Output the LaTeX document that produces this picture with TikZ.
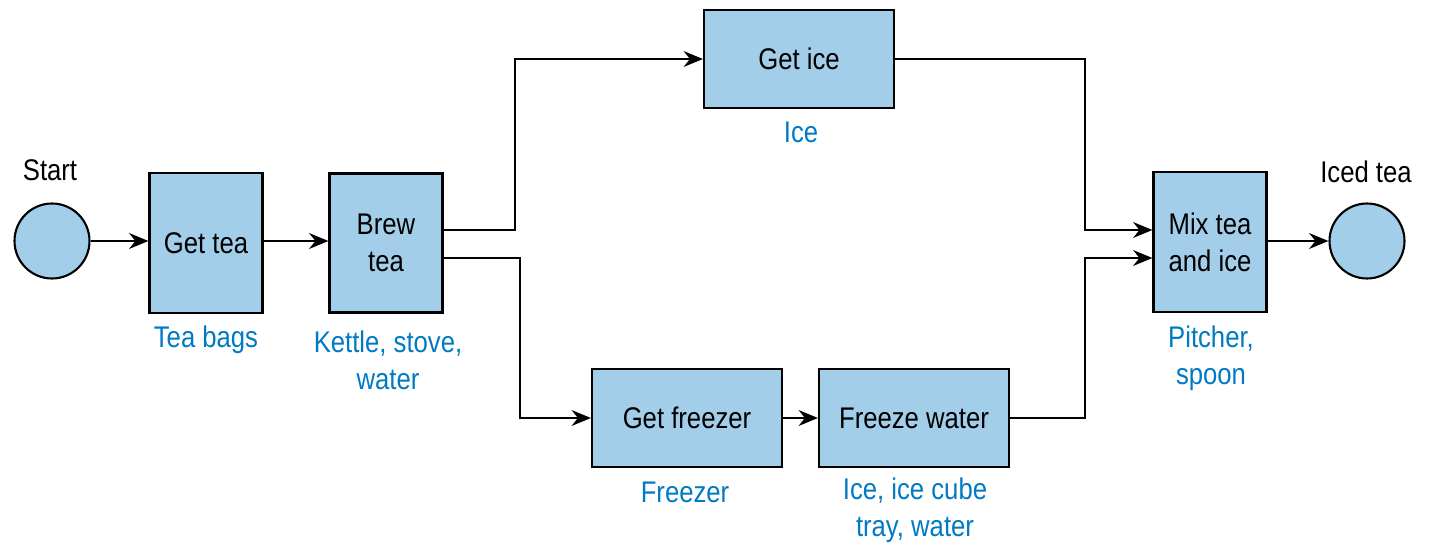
\documentclass[tikz,border=0pt]{standalone}
\usepackage{fontspec}
\setmainfont{Liberation Sans}[FakeStretch=0.86]
\usetikzlibrary{arrows.meta}
\tikzset{
  task/.style={rectangle, draw, line width=1.2pt, fill=boxblue, text centered, align=center, font=\fontsize{17}{21}\selectfont},
  terminal/.style={circle, draw, line width=1.2pt, fill=boxblue, minimum size=1.5cm},
  res/.style={text=resblue, align=center, font=\fontsize{17}{21}\selectfont},
  lbl/.style={font=\fontsize{17}{21}\selectfont},
  arrow/.style={line width=1.2pt, -{Stealth[length=11pt,width=9pt]}}
}
\definecolor{boxblue}{RGB}{163,206,234}
\definecolor{resblue}{RGB}{0,122,194}
\begin{document}
\begin{tikzpicture}[x=0.02cm, y=-0.02cm]
    \useasboundingbox (0,0) rectangle (1451,554);
    \node [terminal] at (52,241) (start) {};
    \node [lbl] at (50,170) {Start};
    \node [task, minimum width=2.26cm, minimum height=2.8cm] at (206,243) (gettea) {Get tea};
    \node [task, minimum width=2.26cm, minimum height=2.78cm] at (386,243) (brew) {Brew\\tea};
    \node [task, minimum width=3.8cm, minimum height=1.96cm] at (799,59) (getice) {Get ice};
    \node [task, minimum width=3.8cm, minimum height=1.96cm] at (687,418) (freezer) {Get freezer};
    \node [task, minimum width=3.8cm, minimum height=1.96cm] at (914,418) (freeze) {Freeze water};
    \node [task, minimum width=2.26cm, minimum height=2.8cm] at (1210,242) (mix) {Mix tea\\and ice};
    \node [terminal] at (1367,241) (stop) {};
    \node [lbl] at (1366,172) {Iced tea};

    \node [res] at (206,340) {Tea bags};
    \node [res] at (388,360) {Kettle, stove,\\water};
    \node [res] at (801,132) {Ice};
    \node [res] at (685,492) {Freezer};
    \node [res] at (915,510) {Ice, ice cube\\tray, water};
    \node [res] at (1211,358) {Pitcher,\\spoon};

    \draw [arrow] (start) -- (gettea.west |- start);
    \draw [arrow] (gettea.east |- start) -- (brew.west |- start);
    \draw [arrow] (brew.east |- 0,230) -- (515,230) |- (getice);
    \draw [arrow] (brew.east |- 0,258) -- (520,258) |- (freezer);
    \draw [arrow] (freezer) -- (freeze);
    \draw [arrow] (getice) -| (1085,230) -- (mix.west |- 0,230);
    \draw [arrow] (freeze) -| (1085,258) -- (mix.west |- 0,258);
    \draw [arrow] (mix.east |- stop) -- (stop);
\end{tikzpicture}
\end{document}
